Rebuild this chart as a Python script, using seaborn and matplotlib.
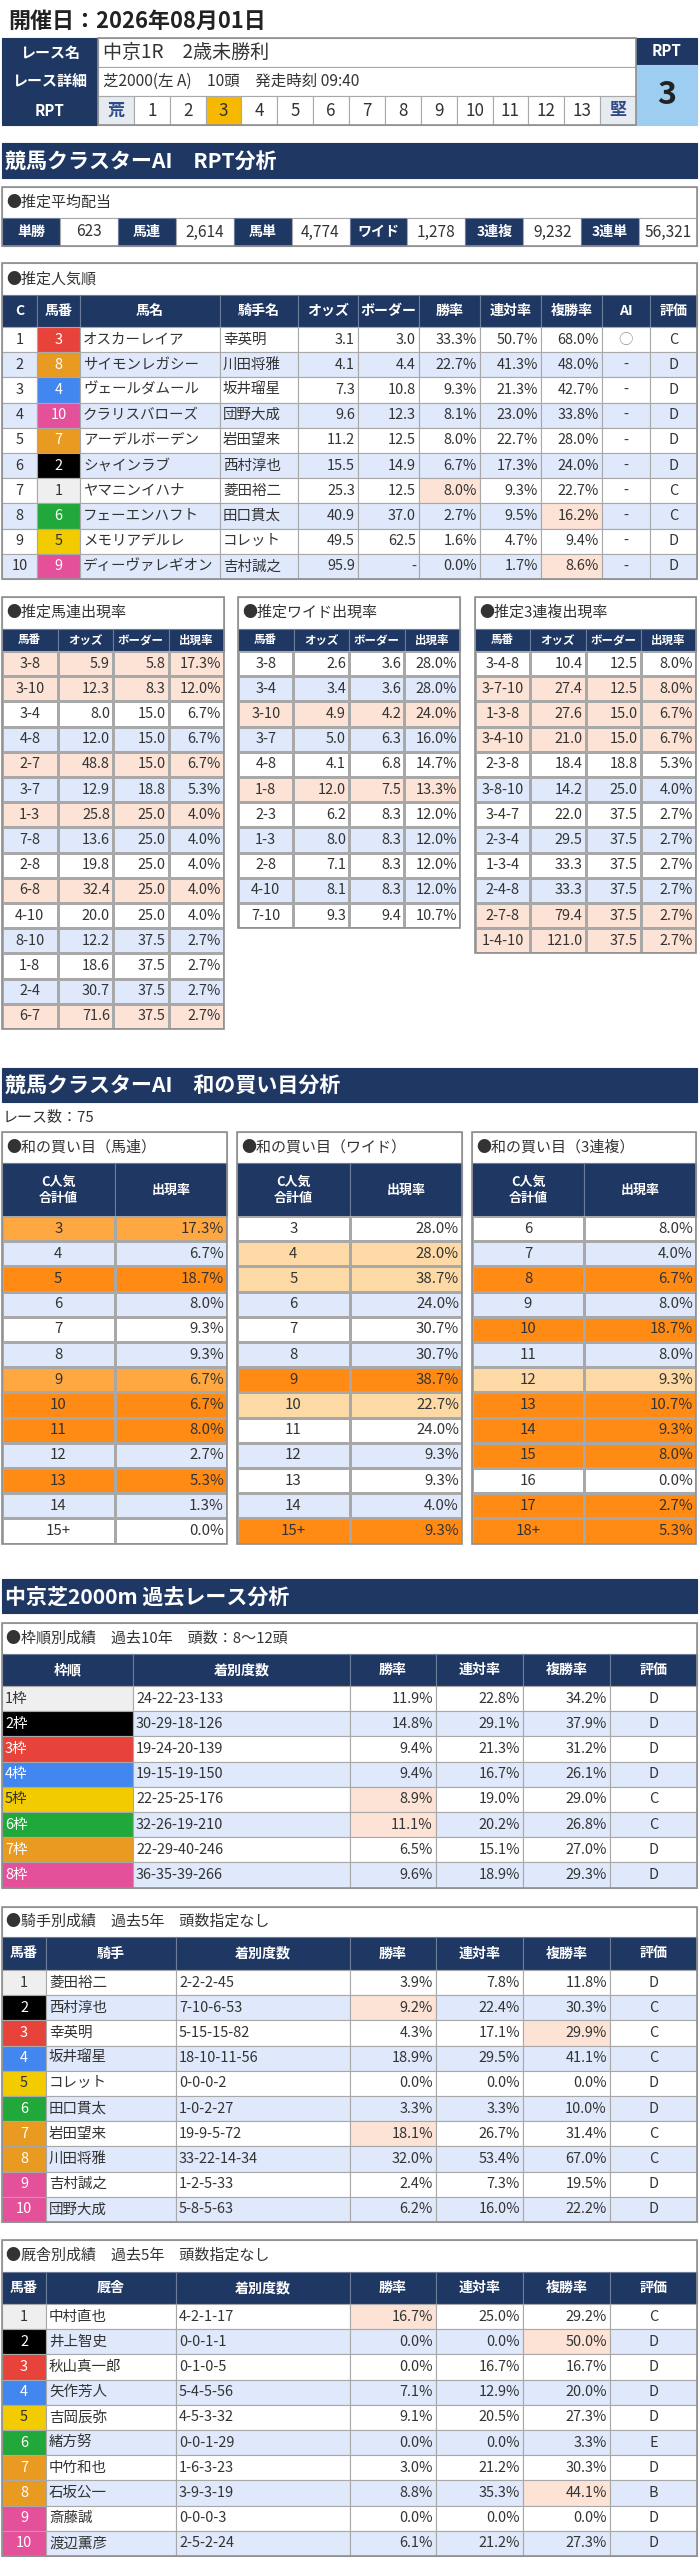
import numpy as np
import matplotlib
matplotlib.use("Agg")
import matplotlib.pyplot as plt
from matplotlib.patches import Rectangle
from matplotlib.colors import ListedColormap
import seaborn as sns

# -----------------------
# Data
# -----------------------

race_date = "2026年08月01日"
race_name = "中京1R　2歳未勝利"
race_detail = "芝2000(左 A)　10頭　発走時刻 09:40"
rpt_scale = ["荒", "1", "2", "3", "4", "5", "6", "7", "8", "9", "10", "11", "12", "13", "堅"]
rpt_value = 3

payout_labels = ["単勝", "馬連", "馬単", "ワイド", "3連複", "3連単"]
payout_values = [623, 2614, 4774, 1278, 9232, 56321]

pop_rank = [1, 2, 3, 4, 5, 6, 7, 8, 9, 10]
pop_umaban = [3, 8, 4, 10, 7, 2, 1, 6, 5, 9]
pop_horse = ["オスカーレイア", "サイモンレガシー", "ヴェールダムール", "クラリスバローズ",
             "アーデルボーデン", "シャインラブ", "ヤマニンイハナ", "フェーエンハフト",
             "メモリアデルレ", "ディーヴァレギオン"]
pop_jockey = ["幸英明", "川田将雅", "坂井瑠星", "団野大成", "岩田望来",
              "西村淳也", "菱田裕二", "田口貫太", "コレット", "吉村誠之"]
pop_odds = [3.1, 4.1, 7.3, 9.6, 11.2, 15.5, 25.3, 40.9, 49.5, 95.9]
pop_border = [3.0, 4.4, 10.8, 12.3, 12.5, 14.9, 12.5, 37.0, 62.5, None]
pop_win = [33.3, 22.7, 9.3, 8.1, 8.0, 6.7, 8.0, 2.7, 1.6, 0.0]
pop_rentai = [50.7, 41.3, 21.3, 23.0, 22.7, 17.3, 9.3, 9.5, 4.7, 1.7]
pop_fuku = [68.0, 48.0, 42.7, 33.8, 28.0, 24.0, 22.7, 16.2, 9.4, 8.6]
pop_ai = ["○", "-", "-", "-", "-", "-", "-", "-", "-", "-"]
pop_eval = ["C", "D", "D", "D", "D", "D", "C", "C", "D", "D"]
pop_win_mark = [0, 0, 0, 0, 0, 0, 1, 0, 0, 0]
pop_fuku_mark = [0, 0, 0, 0, 0, 0, 0, 1, 0, 1]

# horse number -> frame (10 runners)
horse_frame = [1, 2, 3, 4, 5, 6, 7, 7, 8, 8]

umaren_combo = ["3-8", "3-10", "3-4", "4-8", "2-7", "3-7", "1-3", "7-8",
                "2-8", "6-8", "4-10", "8-10", "1-8", "2-4", "6-7"]
umaren_odds = [5.9, 12.3, 8.0, 12.0, 48.8, 12.9, 25.8, 13.6, 19.8, 32.4, 20.0, 12.2, 18.6, 30.7, 71.6]
umaren_border = [5.8, 8.3, 15.0, 15.0, 15.0, 18.8, 25.0, 25.0, 25.0, 25.0, 25.0, 37.5, 37.5, 37.5, 37.5]
umaren_rate = [17.3, 12.0, 6.7, 6.7, 6.7, 5.3, 4.0, 4.0, 4.0, 4.0, 4.0, 2.7, 2.7, 2.7, 2.7]

wide_combo = ["3-8", "3-4", "3-10", "3-7", "4-8", "1-8", "2-3", "1-3", "2-8", "4-10", "7-10"]
wide_odds = [2.6, 3.4, 4.9, 5.0, 4.1, 12.0, 6.2, 8.0, 7.1, 8.1, 9.3]
wide_border = [3.6, 3.6, 4.2, 6.3, 6.8, 7.5, 8.3, 8.3, 8.3, 8.3, 9.4]
wide_rate = [28.0, 28.0, 24.0, 16.0, 14.7, 13.3, 12.0, 12.0, 12.0, 12.0, 10.7]

trio_combo = ["3-4-8", "3-7-10", "1-3-8", "3-4-10", "2-3-8", "3-8-10",
              "3-4-7", "2-3-4", "1-3-4", "2-4-8", "2-7-8", "1-4-10"]
trio_odds = [10.4, 27.4, 27.6, 21.0, 18.4, 14.2, 22.0, 29.5, 33.3, 33.3, 79.4, 121.0]
trio_border = [12.5, 12.5, 15.0, 15.0, 18.8, 25.0, 37.5, 37.5, 37.5, 37.5, 37.5, 37.5]
trio_rate = [8.0, 8.0, 6.7, 6.7, 5.3, 4.0, 2.7, 2.7, 2.7, 2.7, 2.7, 2.7]

race_count = 75
buy_umaren_sum = ["3", "4", "5", "6", "7", "8", "9", "10", "11", "12", "13", "14", "15+"]
buy_umaren_rate = [17.3, 6.7, 18.7, 8.0, 9.3, 9.3, 6.7, 6.7, 8.0, 2.7, 5.3, 1.3, 0.0]
buy_umaren_level = [2, 0, 3, 0, 0, 0, 2, 3, 3, 0, 3, 0, 0]
buy_wide_sum = ["3", "4", "5", "6", "7", "8", "9", "10", "11", "12", "13", "14", "15+"]
buy_wide_rate = [28.0, 28.0, 38.7, 24.0, 30.7, 30.7, 38.7, 22.7, 24.0, 9.3, 9.3, 4.0, 9.3]
buy_wide_level = [0, 1, 1, 0, 0, 0, 3, 1, 0, 0, 0, 0, 3]
buy_trio_sum = ["6", "7", "8", "9", "10", "11", "12", "13", "14", "15", "16", "17", "18+"]
buy_trio_rate = [8.0, 4.0, 6.7, 8.0, 18.7, 8.0, 9.3, 10.7, 9.3, 8.0, 0.0, 2.7, 5.3]
buy_trio_level = [0, 0, 3, 0, 3, 0, 1, 3, 3, 3, 0, 3, 3]

waku_label = ["1枠", "2枠", "3枠", "4枠", "5枠", "6枠", "7枠", "8枠"]
waku_record = ["24-22-23-133", "30-29-18-126", "19-24-20-139", "19-15-19-150",
               "22-25-25-176", "32-26-19-210", "22-29-40-246", "36-35-39-266"]
waku_win = [11.9, 14.8, 9.4, 9.4, 8.9, 11.1, 6.5, 9.6]
waku_rentai = [22.8, 29.1, 21.3, 16.7, 19.0, 20.2, 15.1, 18.9]
waku_fuku = [34.2, 37.9, 31.2, 26.1, 29.0, 26.8, 27.0, 29.3]
waku_eval = ["D", "D", "D", "D", "C", "C", "D", "D"]
waku_win_mark = [0, 0, 0, 0, 1, 1, 0, 0]
waku_fuku_mark = [0, 0, 0, 0, 0, 0, 0, 0]

jockey_num = [1, 2, 3, 4, 5, 6, 7, 8, 9, 10]
jockey_name = ["菱田裕二", "西村淳也", "幸英明", "坂井瑠星", "コレット",
               "田口貫太", "岩田望来", "川田将雅", "吉村誠之", "団野大成"]
jockey_record = ["2-2-2-45", "7-10-6-53", "5-15-15-82", "18-10-11-56", "0-0-0-2",
                 "1-0-2-27", "19-9-5-72", "33-22-14-34", "1-2-5-33", "5-8-5-63"]
jockey_win = [3.9, 9.2, 4.3, 18.9, 0.0, 3.3, 18.1, 32.0, 2.4, 6.2]
jockey_rentai = [7.8, 22.4, 17.1, 29.5, 0.0, 3.3, 26.7, 53.4, 7.3, 16.0]
jockey_fuku = [11.8, 30.3, 29.9, 41.1, 0.0, 10.0, 31.4, 67.0, 19.5, 22.2]
jockey_eval = ["D", "C", "C", "C", "D", "D", "C", "C", "D", "D"]
jockey_win_mark = [0, 1, 0, 0, 0, 0, 1, 0, 0, 0]
jockey_fuku_mark = [0, 0, 1, 0, 0, 0, 0, 0, 0, 0]

trainer_name = ["中村直也", "井上智史", "秋山真一郎", "矢作芳人", "吉岡辰弥",
                "緒方努", "中竹和也", "石坂公一", "斎藤誠", "渡辺薫彦"]
trainer_record = ["4-2-1-17", "0-0-1-1", "0-1-0-5", "5-4-5-56", "4-5-3-32",
                  "0-0-1-29", "1-6-3-23", "3-9-3-19", "0-0-0-3", "2-5-2-24"]
trainer_win = [16.7, 0.0, 0.0, 7.1, 9.1, 0.0, 3.0, 8.8, 0.0, 6.1]
trainer_rentai = [25.0, 0.0, 16.7, 12.9, 20.5, 0.0, 21.2, 35.3, 0.0, 21.2]
trainer_fuku = [29.2, 50.0, 16.7, 20.0, 27.3, 3.3, 30.3, 44.1, 0.0, 27.3]
trainer_eval = ["C", "D", "D", "D", "D", "E", "D", "B", "D", "D"]
trainer_win_mark = [1, 0, 0, 0, 0, 0, 0, 0, 0, 0]
trainer_fuku_mark = [0, 1, 0, 0, 0, 0, 0, 1, 0, 0]

# -----------------------
# Style
# -----------------------

sns.set_theme(style="white")
plt.rcParams["font.family"] = ["Noto Sans CJK JP", "DejaVu Sans"]

W, H = 699, 2560
ROW_H = 25.2
NAVY = "#1f3763"
WHITE = "#ffffff"
BLUE_ROW = "#dfe9fb"
PEACH = "#fce3d6"
GRID = "#a8a8a8"
BOX = "#8f8f8f"
TXT = "#333333"
ORANGES = ["#fdd9a6", "#ffa740", "#ff8a14"]
FRAME_COLORS = {1: "#efefef", 2: "#000000", 3: "#e8433a", 4: "#4287f0",
                5: "#f2cb00", 6: "#21a83b", 7: "#e99a21", 8: "#e5509b"}
FRAME_TEXT = {1: TXT, 2: "white", 3: "white", 4: "white",
              5: TXT, 6: "white", 7: "white", 8: "white"}

fig = plt.figure(figsize=(W / 100, H / 100), dpi=100)
bg = fig.add_axes([0, 0, 1, 1])
bg.set_xlim(0, W)
bg.set_ylim(H, 0)
bg.axis("off")
fg = fig.add_axes([0, 0, 1, 1])
fg.set_xlim(0, W)
fg.set_ylim(H, 0)
fg.axis("off")
fg.set_zorder(10)


def rect(x, y, w, h, fc, ec=GRID, lw=0.8):
    bg.add_patch(Rectangle((x, y), w, h, facecolor=fc, edgecolor=ec, linewidth=lw))


def frame_box(x0, y0, x1, y1):
    fg.add_patch(Rectangle((x0, y0), x1 - x0, y1 - y0, fill=False,
                           edgecolor=BOX, linewidth=1.2))


def put(x, y, s, px, color=TXT, ha="center", bold=False):
    fg.text(x, y, s, fontsize=px * 0.72, color=color, ha=ha, va="center",
            fontweight="bold" if bold else "normal")


def cell_text(a, b, top, h, s, align, px=14, color=TXT):
    if align == "left":
        put(a + 3, top + h / 2, s, px, color, "left")
    elif align == "right":
        put(b - 3, top + h / 2, s, px, color, "right")
    else:
        put((a + b) / 2, top + h / 2, s, px, color, "center")


def section(y0, y1, title):
    rect(2, y0, 695, y1 - y0, NAVY, ec=NAVY)
    put(5, (y0 + y1) / 2 + 1, title, 21, "white", "left", True)


def box_title(x0, x1, y0, y1, title, px=15):
    rect(x0, y0, x1 - x0, y1 - y0, WHITE)
    put(x0 + 4, (y0 + y1) / 2, title, px, TXT, "left")


def header(edges, y0, y1, labels, px=14):
    for j, lab in enumerate(labels):
        rect(edges[j], y0, edges[j + 1] - edges[j], y1 - y0, NAVY, ec="#6d7c99")
        put((edges[j] + edges[j + 1]) / 2, (y0 + y1) / 2, lab, px, "white", "center", True)


def grid_table(edges, y0, texts, fills, colors, aligns, px=14):
    for i, row in enumerate(texts):
        top = y0 + i * ROW_H
        for j, s in enumerate(row):
            a, b = edges[j], edges[j + 1]
            rect(a, top, b - a, ROW_H, fills[i][j])
            cell_text(a, b, top, ROW_H, s, aligns[j], px, colors[i][j])


def heat_rows(x0, x1, y0, codes, ncols, palette):
    # row-coloured body drawn as a seaborn heatmap
    n = len(codes)
    h = ROW_H * n
    hax = fig.add_axes([x0 / W, 1 - (y0 + h) / H, (x1 - x0) / W, h / H])
    grid = np.repeat(np.asarray(codes)[:, None], ncols, axis=1)
    sns.heatmap(grid, cmap=ListedColormap(palette), vmin=-0.5,
                vmax=len(palette) - 0.5, cbar=False, linewidths=0.8,
                linecolor=GRID, xticklabels=False, yticklabels=False, ax=hax)
    hax.set_axis_off()
    return np.linspace(x0, x1, ncols + 1)


def pct(v):
    return f"{v:.1f}%"


# -----------------------
# Race header
# -----------------------

put(8, 21, "開催日：" + race_date, 22, "#222222", "left", True)

rect(2, 38, 96, 29, NAVY, ec=NAVY)
rect(2, 67, 96, 29, NAVY, ec=NAVY)
rect(2, 96, 96, 29, NAVY, ec=NAVY)
put(50, 52.5, "レース名", 15, "white", "center", True)
put(50, 81.5, "レース詳細", 15, "white", "center", True)
put(50, 110.5, "RPT", 15, "white", "center", True)
rect(98, 38, 538, 29, WHITE)
rect(98, 67, 538, 29, WHITE)
put(103, 52.5, race_name, 19, TXT, "left")
put(103, 81.5, race_detail, 15.5, TXT, "left")

rpt_edges = np.linspace(98, 636, len(rpt_scale) + 1)
for k, lab in enumerate(rpt_scale):
    if lab in ("荒", "堅"):
        fc, col, bold = "#e6eaf1", "#2f4b87", True
    elif lab == str(rpt_value):
        fc, col, bold = "#f7b900", TXT, False
    else:
        fc, col, bold = WHITE, TXT, False
    rect(rpt_edges[k], 96, rpt_edges[k + 1] - rpt_edges[k], 29, fc)
    put((rpt_edges[k] + rpt_edges[k + 1]) / 2, 110.5, lab, 17, col, "center", bold)
frame_box(98, 38, 636, 125)

rect(636, 38, 61, 27, NAVY, ec=NAVY)
rect(636, 65, 61, 60, "#9dcdf1", ec="#9dcdf1")
put(666.5, 51.5, "RPT", 15, "white", "center", True)
put(666.5, 95, str(rpt_value), 32, "#222222", "center", True)

# -----------------------
# RPT analysis
# -----------------------

section(143, 178, "競馬クラスターAI　RPT分析")

box_title(2, 697, 187, 218, "●推定平均配当")
pay_edges = np.linspace(2, 697, 13)
for k in range(6):
    a, b, c = pay_edges[2 * k], pay_edges[2 * k + 1], pay_edges[2 * k + 2]
    rect(a, 218, b - a, 28, NAVY, ec="#6d7c99")
    put((a + b) / 2, 232, payout_labels[k], 14, "white", "center", True)
    rect(b, 218, c - b, 28, WHITE)
    put((b + c) / 2, 232, f"{payout_values[k]:,}", 15.5, TXT, "center")
frame_box(2, 187, 697, 246)

# popularity table
box_title(2, 697, 263, 295, "●推定人気順")
pop_edges = [2, 37, 80, 220, 298, 358, 419, 480, 541, 602, 650, 697]
header(pop_edges, 295, 327, ["C", "馬番", "馬名", "騎手名", "オッズ", "ボーダー",
                              "勝率", "連対率", "複勝率", "AI", "評価"])
texts, fills, colors = [], [], []
for i in range(len(pop_rank)):
    base = WHITE if i % 2 == 0 else BLUE_ROW
    fr = horse_frame[pop_umaban[i] - 1]
    border = "-" if pop_border[i] is None else f"{pop_border[i]:.1f}"
    texts.append([str(pop_rank[i]), str(pop_umaban[i]), pop_horse[i], pop_jockey[i],
                  f"{pop_odds[i]:.1f}", border, pct(pop_win[i]), pct(pop_rentai[i]),
                  pct(pop_fuku[i]), pop_ai[i], pop_eval[i]])
    row_f = [base] * 11
    row_f[1] = FRAME_COLORS[fr]
    if pop_win_mark[i]:
        row_f[6] = PEACH
    if pop_fuku_mark[i]:
        row_f[8] = PEACH
    fills.append(row_f)
    row_c = [TXT] * 11
    row_c[1] = FRAME_TEXT[fr]
    if pop_ai[i] == "○":
        row_c[9] = "#9a9a9a"
    colors.append(row_c)
grid_table(pop_edges, 327, texts, fills, colors,
           ["center", "center", "left", "left", "right", "right", "right",
            "right", "right", "center", "center"], px=14.5)
frame_box(2, 263, 697, 327 + ROW_H * len(pop_rank))

# three odds tables
small_tables = [
    (2, 224, "●推定馬連出現率", umaren_combo, umaren_odds, umaren_border, umaren_rate),
    (238, 460, "●推定ワイド出現率", wide_combo, wide_odds, wide_border, wide_rate),
    (475, 696, "●推定3連複出現率", trio_combo, trio_odds, trio_border, trio_rate),
]
for x0, x1, title, combo, odds, border, rate in small_tables:
    box_title(x0, x1, 597, 629, title, px=15)
    edges = np.linspace(x0, x1, 5)
    header(edges, 629, 651, ["馬番", "オッズ", "ボーダー", "出現率"], px=11.5)
    codes = [2 if odds[i] > border[i] else i % 2 for i in range(len(combo))]
    edges = heat_rows(x0, x1, 651, codes, 4, [WHITE, BLUE_ROW, PEACH])
    for i in range(len(combo)):
        top = 651 + i * ROW_H
        cell_text(edges[0], edges[1], top, ROW_H, combo[i], "center", 14.5)
        cell_text(edges[1], edges[2], top, ROW_H, f"{odds[i]:.1f}", "right", 14.5)
        cell_text(edges[2], edges[3], top, ROW_H, f"{border[i]:.1f}", "right", 14.5)
        cell_text(edges[3], edges[4], top, ROW_H, pct(rate[i]), "right", 14.5)
    frame_box(x0, 597, x1, 651 + ROW_H * len(combo))

# -----------------------
# Sum-of-popularity analysis
# -----------------------

section(1068, 1102, "競馬クラスターAI　和の買い目分析")
put(3, 1117, f"レース数：{race_count}", 15, TXT, "left")

buy_tables = [
    (2, 227, "●和の買い目（馬連）", buy_umaren_sum, buy_umaren_rate, buy_umaren_level),
    (237, 462, "●和の買い目（ワイド）", buy_wide_sum, buy_wide_rate, buy_wide_level),
    (472, 696, "●和の買い目（3連複）", buy_trio_sum, buy_trio_rate, buy_trio_level),
]
for x0, x1, title, sums, rates, levels in buy_tables:
    box_title(x0, x1, 1132, 1163, title, px=15)
    edges = np.linspace(x0, x1, 3)
    header(edges, 1163, 1216, ["C人気\n合計値", "出現率"], px=13)
    codes = [lv + 1 if lv > 0 else i % 2 for i, lv in enumerate(levels)]
    edges = heat_rows(x0, x1, 1216, codes, 2, [WHITE, BLUE_ROW] + ORANGES)
    for i in range(len(sums)):
        top = 1216 + i * ROW_H
        cell_text(edges[0], edges[1], top, ROW_H, sums[i], "center", 15)
        cell_text(edges[1], edges[2], top, ROW_H, pct(rates[i]), "right", 15)
    frame_box(x0, 1132, x1, 1216 + ROW_H * len(sums))

# -----------------------
# Course history
# -----------------------

section(1579, 1613, "中京芝2000m 過去レース分析")

box_title(2, 697, 1623, 1654, "●枠順別成績　過去10年　頭数：8～12頭")
waku_edges = [2, 133, 350, 436, 523, 610, 697]
header(waku_edges, 1654, 1686, ["枠順", "着別度数", "勝率", "連対率", "複勝率", "評価"])
texts, fills, colors = [], [], []
for i in range(len(waku_label)):
    base = WHITE if i % 2 == 0 else BLUE_ROW
    texts.append([waku_label[i], waku_record[i], pct(waku_win[i]), pct(waku_rentai[i]),
                  pct(waku_fuku[i]), waku_eval[i]])
    row_f = [base] * 6
    row_f[0] = FRAME_COLORS[i + 1]
    if waku_win_mark[i]:
        row_f[2] = PEACH
    if waku_fuku_mark[i]:
        row_f[4] = PEACH
    fills.append(row_f)
    row_c = [TXT] * 6
    row_c[0] = FRAME_TEXT[i + 1]
    colors.append(row_c)
grid_table(waku_edges, 1686, texts, fills, colors,
           ["left", "left", "right", "right", "right", "center"], px=14.5)
frame_box(2, 1623, 697, 1686 + ROW_H * len(waku_label))

person_edges = [2, 46, 176, 350, 436, 523, 610, 697]
person_tables = [
    (1907, 1937, 1970, "●騎手別成績　過去5年　頭数指定なし", "騎手", jockey_name,
     jockey_record, jockey_win, jockey_rentai, jockey_fuku, jockey_eval,
     jockey_win_mark, jockey_fuku_mark),
    (2240, 2272, 2304, "●厩舎別成績　過去5年　頭数指定なし", "厩舎", trainer_name,
     trainer_record, trainer_win, trainer_rentai, trainer_fuku, trainer_eval,
     trainer_win_mark, trainer_fuku_mark),
]
for (y0, y1, y2, title, who, names, records, win, rentai, fuku, evals,
     win_mark, fuku_mark) in person_tables:
    box_title(2, 697, y0, y1, title)
    header(person_edges, y1, y2, ["馬番", who, "着別度数", "勝率", "連対率", "複勝率", "評価"])
    texts, fills, colors = [], [], []
    for i in range(len(names)):
        base = WHITE if i % 2 == 0 else BLUE_ROW
        fr = horse_frame[jockey_num[i] - 1]
        texts.append([str(jockey_num[i]), names[i], records[i], pct(win[i]),
                      pct(rentai[i]), pct(fuku[i]), evals[i]])
        row_f = [base] * 7
        row_f[0] = FRAME_COLORS[fr]
        if win_mark[i]:
            row_f[3] = PEACH
        if fuku_mark[i]:
            row_f[5] = PEACH
        fills.append(row_f)
        row_c = [TXT] * 7
        row_c[0] = FRAME_TEXT[fr]
        colors.append(row_c)
    grid_table(person_edges, y2, texts, fills, colors,
               ["center", "left", "left", "right", "right", "right", "center"], px=14.5)
    frame_box(2, y0, 697, y2 + ROW_H * len(names))

fig.savefig("out.png", dpi=100)
plt.close(fig)
